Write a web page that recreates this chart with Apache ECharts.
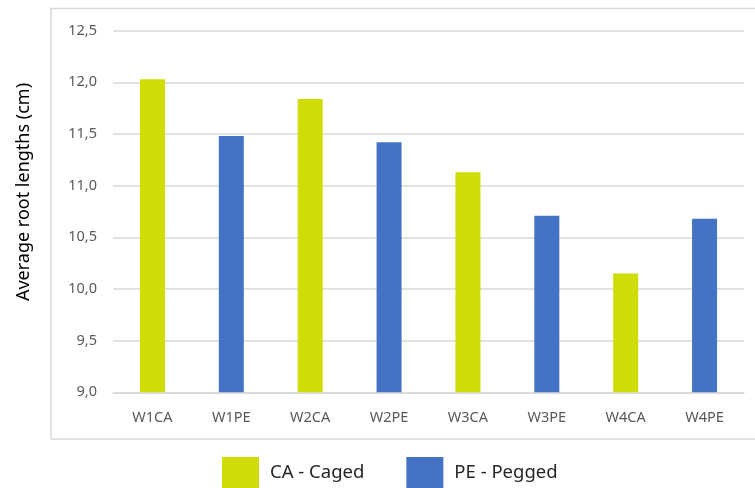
<!DOCTYPE html>
<html>
<head>
<meta charset="utf-8">
<script src="https://cdn.jsdelivr.net/npm/echarts@6/dist/echarts.min.js"></script>
<style>
  html, body { margin: 0; padding: 0; background: #fff; }
  #chart { width: 755px; height: 488px; }
</style>
</head>
<body>
<div id="chart"></div>
<script>
// Root length per week and treatment
var categories = ['W1CA', 'W1PE', 'W2CA', 'W2PE', 'W3CA', 'W3PE', 'W4CA', 'W4PE'];
var cagedValues  = [12.03, null, 11.84, null, 11.13, null, 10.15, null];
var peggedValues = [null, 11.48, null, 11.42, null, 10.71, null, 10.68];
var seriesNames = ['CA - Caged', 'PE - Pegged'];
var yTicks = { min: 9.0, max: 12.5, step: 0.5 };
var yTitle = 'Average root lengths (cm)';

var FONT = '"Noto Sans", "Open Sans", sans-serif';
var chart = echarts.init(document.getElementById('chart'), null, { renderer: 'canvas' });

chart.setOption({
  animation: false,
  backgroundColor: '#ffffff',
  grid: { left: 113, right: 11, top: 30.7, bottom: 95.7 },
  legend: {
    data: seriesNames,
    left: 222,
    top: 457,
    padding: 0,
    icon: 'rect',
    itemWidth: 37,
    itemHeight: 32,
    itemGap: 42,
    textStyle: { fontFamily: FONT, fontSize: 18.5, color: '#262626', padding: [5, 0, 0, 6] }
  },
  xAxis: {
    type: 'category',
    data: categories,
    axisLine: { lineStyle: { color: '#d9d9d9', width: 1.5 } },
    axisTick: { show: false },
    axisLabel: { fontFamily: FONT, fontSize: 14.5, color: '#595959', margin: 18 }
  },
  yAxis: {
    type: 'value',
    min: yTicks.min,
    max: yTicks.max,
    interval: yTicks.step,
    axisLine: { show: false },
    axisTick: { show: false },
    splitLine: { lineStyle: { color: '#d9d9d9', width: 1.5 } },
    axisLabel: {
      fontFamily: FONT, fontSize: 14.5, color: '#595959', margin: 16,
      formatter: function (v) { return v.toFixed(1).replace('.', ','); }
    }
  },
  series: [
    {
      name: seriesNames[0], type: 'bar', stack: 'root', barWidth: 25,
      itemStyle: { color: '#cfdc06' }, data: cagedValues
    },
    {
      name: seriesNames[1], type: 'bar', stack: 'root', barWidth: 25,
      itemStyle: { color: '#4472c4' }, data: peggedValues
    }
  ],
  graphic: [
    {
      type: 'rect', silent: true, z: -1,
      shape: { x: 51, y: 8.5, width: 720, height: 430.5 },
      style: { fill: null, stroke: '#d9d9d9', lineWidth: 1.5 }
    },
    {
      type: 'text', silent: true,
      x: 24, y: 192, rotation: Math.PI / 2,
      style: {
        text: yTitle, fontFamily: FONT, fontSize: 18, fill: '#000000',
        align: 'center', verticalAlign: 'middle'
      }
    }
  ]
});
</script>
</body>
</html>
